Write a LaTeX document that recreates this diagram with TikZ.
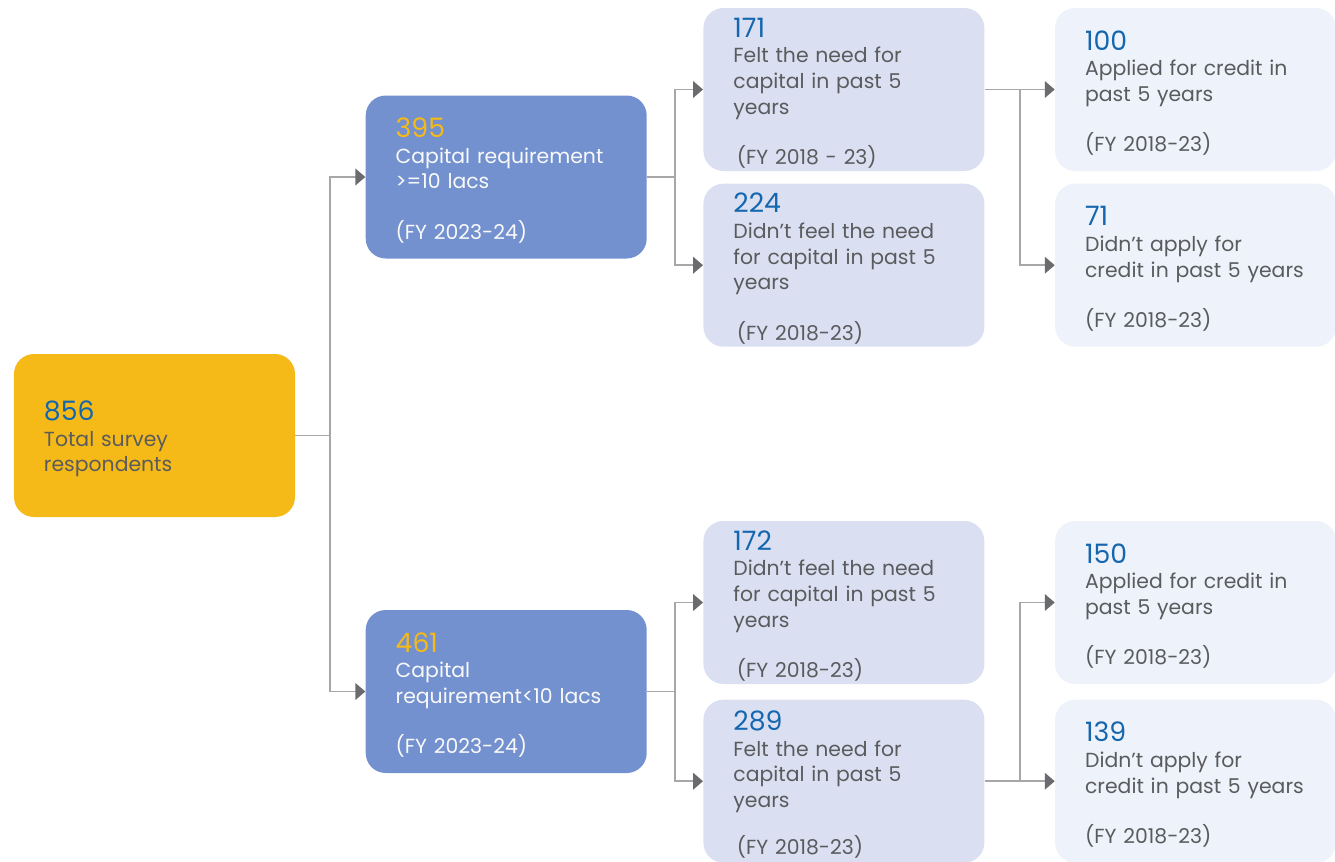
\documentclass[tikz,border=0pt]{standalone}
\usepackage{fontspec}
\setmainfont{Poppins}
\usepackage{tikz}
\usetikzlibrary{arrows.meta,positioning}

\definecolor{gold}{HTML}{F5BA18}
\definecolor{midblue}{HTML}{7391CF}
\definecolor{paleblue}{HTML}{DAE0F2}
\definecolor{palerblue}{HTML}{EEF2FA}
\definecolor{numblue}{HTML}{1466AE}
\definecolor{txtgray}{HTML}{5A5B5D}
\definecolor{linegray}{HTML}{A7A7A7}
\definecolor{tipgray}{HTML}{6A6B6E}

\newcommand{\bignum}[2][numblue]{{\color{#1}\fontsize{15.2}{18}\selectfont\rule{0pt}{15pt}#2}}

\begin{document}
\begin{tikzpicture}[>={Triangle[length=5.7pt,width=9.5pt,color=tipgray]},
                    box/.style={rectangle,rounded corners=0.4cm,minimum width=5.62cm,
                      minimum height=3.26cm,text width=4.42cm,inner xsep=0.6cm,inner ysep=0pt,
                      align=left,text=txtgray,font=\fontsize{11.6}{14.6}\selectfont},
                    rootbox/.style={box,fill=gold},
                    midbox/.style={box,fill=midblue,text=white!95!gray},
                    palebox/.style={box,fill=paleblue},
                    palerbox/.style={box,fill=palerblue},
                    link/.style={draw=linegray,line width=1pt}]

      \useasboundingbox (-3.09,-8.51) rectangle (23.61,8.71);

      \node[rootbox] (total) {\bignum{856}\\Total survey\\respondents};
      \node[midbox] (high) [right=1.4cm of total,yshift=5.17cm]
        {\bignum[gold]{395}\\Capital requirement\\>=10 lacs\\[14pt](FY 2023-24)};
      \node[midbox] (low) [right=1.4cm of total,yshift=-5.12cm]
        {\bignum[gold]{461}\\Capital\\requirement<10 lacs\\[14pt](FY 2023-24)};

      % upper branch
      \node[palebox] (felt1) [right=1.12cm of high,yshift=1.75cm]
        {\bignum{171}\\Felt the need for\\capital in past 5\\years\\[14pt]\,(FY 2018 - 23)};
      \node[palebox] (nofelt1) [below=0.24cm of felt1]
        {\bignum{224}\\Didn’t feel the need\\for capital in past 5\\years\\[14pt]\,(FY 2018-23)};
      \node[palerbox] (apply1) [right=1.4cm of felt1]
        {\bignum{100}\\Applied for credit in\\past 5 years\\[14pt](FY 2018-23)};
      \node[palerbox] (noapply1) [right=1.4cm of nofelt1]
        {\bignum{71}\\Didn’t apply for\\credit in past 5 years\\[14pt](FY 2018-23)};

      % lower branch
      \node[palebox] (nofelt2) [right=1.12cm of low,yshift=1.78cm]
        {\bignum{172}\\Didn’t feel the need\\for capital in past 5\\years\\[14pt]\,(FY 2018-23)};
      \node[palebox] (felt2) [below=0.3cm of nofelt2]
        {\bignum{289}\\Felt the need for\\capital in past 5\\years\\[12pt]\,(FY 2018-23)};
      \node[palerbox] (apply2) [right=1.4cm of nofelt2]
        {\bignum{150}\\Applied for credit in\\past 5 years\\[14pt](FY 2018-23)};
      \node[palerbox] (noapply2) [right=1.4cm of felt2]
        {\bignum{139}\\Didn’t apply for\\credit in past 5 years\\[14pt](FY 2018-23)};

      \draw[link] (total.east) -- ++(0.7,0) coordinate (j0);
      \draw[link,->] (j0) |- (high.west);
      \draw[link,->] (j0) |- (low.west);

      \draw[link] (high.east) -- ++(0.56,0) coordinate (j1);
      \draw[link,->] (j1) |- (felt1.west);
      \draw[link,->] (j1) |- (nofelt1.west);

      \draw[link] (low.east) -- ++(0.56,0) coordinate (j2);
      \draw[link,->] (j2) |- (nofelt2.west);
      \draw[link,->] (j2) |- (felt2.west);

      \draw[link,->] (felt1.east) -- ++(0.7,0) coordinate (j3) -- (apply1.west);
      \draw[link,->] (j3) |- (noapply1.west);

      \draw[link,->] (felt2.east) -- ++(0.7,0) coordinate (j4) -- (noapply2.west);
      \draw[link,->] (j4) |- (apply2.west);
    \end{tikzpicture}
\end{document}
